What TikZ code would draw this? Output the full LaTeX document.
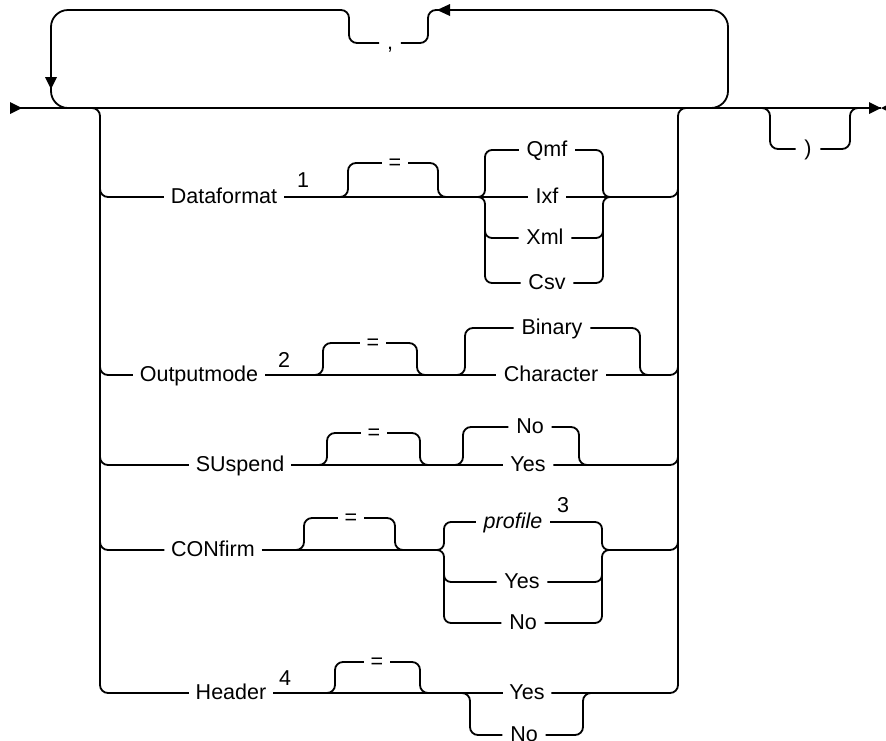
\documentclass[tikz,border=0pt]{standalone}
\usepackage{fontspec}
\setmainfont{Liberation Sans}
\usetikzlibrary{arrows.meta}
\begin{document}
\begin{tikzpicture}[x=1pt,y=-1pt,line width=1.8pt,
  rr/.style={rounded corners=8pt},
  rb/.style={rounded corners=7pt},
  lp/.style={rounded corners=17pt},
  lbl/.style={inner xsep=6pt,inner ysep=0pt,text height=16pt,text depth=4pt,
    font=\fontsize{21.5}{24}\selectfont},
  sup/.style={inner sep=0pt,font=\fontsize{21.5}{24}\selectfont},
  tri/.style={fill=black,draw=none}]
\useasboundingbox (0,0) rectangle (886,740);

% ---------- main line and end markers
\coordinate (S) at (10,108);
\coordinate (E) at (881,108);
\draw (S) -- (E);
\fill[tri] (10,102) -- (22,108) -- (10,114) -- cycle;
\fill[tri] (869,102) -- (881,108) -- (869,114) -- cycle;
\fill[tri] (893,102) -- (881,108) -- (893,114) -- cycle;

% ---------- repeat loop with comma
\node[lbl,inner xsep=7pt] (comma) at (390,43) {,};
\draw[lp] (700,108) -- (728,108) -- (728,10) -- (437,10);
\fill[tri] (437,10) -- (450,4) -- (450,16) -- cycle;
\draw[rr] (437,10) -- (428,10) -- (428,43) -- (comma.east);
\draw[rr] (comma.west) -- (349,43) -- (349,10) -- (340,10);
\draw[lp] (341,10) -- (51,10) -- (51,108) -- (80,108);
\fill[tri] (45,77) -- (51,89) -- (57,77) -- cycle;

% ---------- optional right parenthesis
\node[lbl,inner xsep=8pt] (rp) at (808,149) {)};
\draw[rr] (760,108) -- (770,108) -- (770,149) -- (rp.west);
\draw[rr] (rp.east) -- (850,149) -- (850,108) -- (860,108);

% ---------- choice rails
\node[lbl] (hd) at (231,693) {Header};
\node[lbl] (yes3) at (527,693) {Yes};
\draw[rr] (90,108) -- (100,108) -- (100,693) -- (hd.west);
\draw[rr] (yes3.east) -- (678,693) -- (678,108) -- (690,108);

% ---------- Dataformat
\node[lbl] (df) at (224,197) {Dataformat};
\node[sup] (n1) at (303,180) {1};
\node[lbl] (eq1) at (395,163) {=};
\node[lbl,inner xsep=7pt] (qmf) at (547,150) {Qmf};
\node[lbl,inner xsep=7pt] (ixf) at (547,197) {Ixf};
\node[lbl,inner xsep=7pt] (xml) at (545,238) {Xml};
\node[lbl,inner xsep=7pt] (csv) at (547,283) {Csv};
\draw[rr] (100,177) -- (100,197) -- (df.west);
\draw (df.east) -- (ixf.west);
\draw[rr] (339,197) -- (348,197) -- (348,163) -- (eq1.west);
\draw[rr] (eq1.east) -- (438,163) -- (438,197) -- (447,197);
\draw[rb] (477,197) -- (485,197) -- (485,150) -- (qmf.west);
\draw[rb] (477,197) -- (485,197) -- (485,283) -- (csv.west);
\draw[rb] (485,228) -- (485,238) -- (xml.west);
\draw[rb] (qmf.east) -- (603,150) -- (603,197) -- (611,197);
\draw[rb] (csv.east) -- (603,283) -- (603,197) -- (611,197);
\draw[rb] (xml.east) -- (603,238) -- (603,228);
\draw (ixf.east) -- (611,197);
\draw[rr] (611,197) -- (678,197) -- (678,177);

% ---------- Outputmode
\node[lbl] (om) at (199,375) {Outputmode};
\node[sup] (n2) at (284,360) {2};
\node[lbl] (eq2) at (373,343) {=};
\node[lbl,inner xsep=7pt] (bin) at (552,328) {Binary};
\node[lbl,inner xsep=7pt] (chr) at (551,375) {Character};
\draw[rr] (100,355) -- (100,375) -- (om.west);
\draw (om.east) -- (chr.west);
\draw[rr] (314,375) -- (323,375) -- (323,343) -- (eq2.west);
\draw[rr] (eq2.east) -- (417,343) -- (417,375) -- (426,375);
\draw[rr] (456,375) -- (465,375) -- (465,328) -- (bin.west);
\draw[rr] (bin.east) -- (640,328) -- (640,375) -- (649,375);
\draw[rr] (chr.east) -- (678,375) -- (678,355);

% ---------- SUspend
\node[lbl] (su) at (240,465) {SUspend};
\node[lbl] (eq3) at (374,433) {=};
\node[lbl,inner xsep=7pt] (no1) at (530,427) {No};
\node[lbl,inner xsep=7pt] (yes1) at (528,465) {Yes};
\draw[rr] (100,445) -- (100,465) -- (su.west);
\draw (su.east) -- (yes1.west);
\draw[rr] (318,465) -- (327,465) -- (327,433) -- (eq3.west);
\draw[rr] (eq3.east) -- (420,433) -- (420,465) -- (429,465);
\draw[rr] (454,465) -- (463,465) -- (463,427) -- (no1.west);
\draw[rr] (no1.east) -- (579,427) -- (579,465) -- (588,465);
\draw[rr] (yes1.east) -- (678,465) -- (678,445);

% ---------- CONfirm
\node[lbl] (cf) at (213,550) {CONfirm};
\node[lbl] (eq4) at (351,518) {=};
\node[lbl,inner xsep=7pt,font=\fontsize{21.5}{24}\selectfont\itshape] (prof) at (513,522) {profile};
\node[sup] (n3) at (563,505) {3};
\node[lbl,inner xsep=7pt] (yes2) at (522,582) {Yes};
\node[lbl,inner xsep=7pt] (no2) at (523,623) {No};
\draw[rr] (100,530) -- (100,550) -- (cf.west);
\draw (cf.east) -- (436,550);
\draw[rr] (295,550) -- (304,550) -- (304,518) -- (eq4.west);
\draw[rr] (eq4.east) -- (395,518) -- (395,550) -- (404,550);
\draw[rb] (436,550) -- (444,550) -- (444,522) -- (prof.west);
\draw[rb] (436,550) -- (444,550) -- (444,623) -- (no2.west);
\draw[rb] (444,572) -- (444,582) -- (yes2.west);
\draw[rb] (prof.east) -- (602,522) -- (602,550) -- (610,550);
\draw[rb] (no2.east) -- (602,623) -- (602,550) -- (610,550);
\draw[rb] (yes2.east) -- (602,582) -- (602,572);
\draw[rr] (610,550) -- (678,550) -- (678,530);

% ---------- Header
\node[sup] (n4) at (285,678) {4};
\node[lbl] (eq5) at (377,662) {=};
\node[lbl,inner xsep=7pt] (no3) at (524,735) {No};
\draw (hd.east) -- (yes3.west);
\draw[rr] (326,693) -- (335,693) -- (335,662) -- (eq5.west);
\draw[rr] (eq5.east) -- (420,662) -- (420,693) -- (429,693);
\draw[rr] (461,693) -- (470,693) -- (470,735) -- (no3.west);
\draw[rr] (no3.east) -- (583,735) -- (583,693) -- (592,693);
\end{tikzpicture}
\end{document}
